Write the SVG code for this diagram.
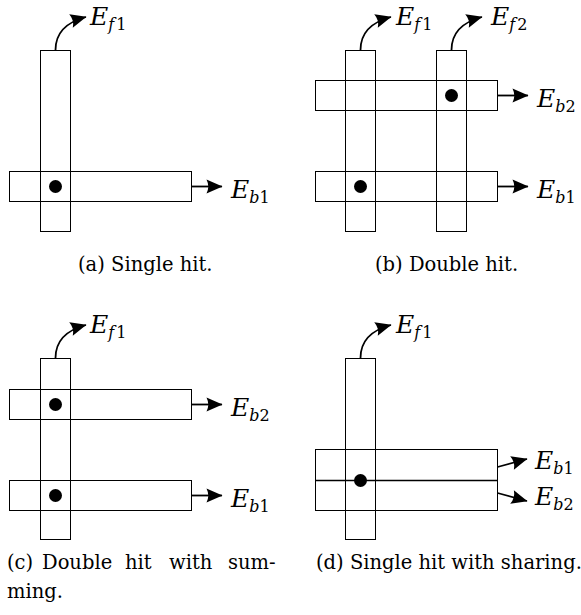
<svg xmlns="http://www.w3.org/2000/svg" width="581" height="615" viewBox="0 0 581 615">
<defs>
<marker id="ah" viewBox="-18 -9 19 18" markerWidth="19" markerHeight="18" refX="0" refY="0" orient="auto" markerUnits="userSpaceOnUse">
<path d="M0.5,0 L-15.5,-7 Q-12,0 -15.5,7 Z" fill="#000"/>
</marker>
</defs>
<style>
text{font-family:"DejaVu Serif","Liberation Serif","Noto Serif",serif;fill:#000}
.bar{fill:none;stroke:#000;stroke-width:1}
.dot{fill:#000}
.con{fill:none;stroke:#000;stroke-width:1.8;marker-end:url(#ah)}
.lbl{font-size:25px}
.i{font-style:italic}
.sub{font-size:16px}
.cap{font-size:19.5px}
</style>
<rect width="581" height="615" fill="#fff"/>

<!-- (a) -->
<g id="a-front"><rect class="bar" x="40.5" y="50.5" width="30" height="181"/></g>
<g id="a-back"><rect class="bar" x="9.5" y="171.5" width="182" height="30"/></g>
<g id="a-hit"><circle class="dot" cx="55.5" cy="186.5" r="6.5"/></g>
<g id="a-conn">
<path class="con" d="M55.5,50 C55.5,33 67,22 86,17"/>
<path class="con" d="M191.5,186.5 L222,186.5"/>
</g>
<g id="a-labels">
<text class="lbl" x="90" y="25"><tspan class="i">E</tspan><tspan class="sub i" dy="5">f</tspan><tspan class="sub" dx="2">1</tspan></text>
<text class="lbl" x="231" y="198"><tspan class="i">E</tspan><tspan class="sub i" dy="5">b</tspan><tspan class="sub">1</tspan></text>
<text class="cap" x="78" y="271">(a)  Single hit.</text>
</g>

<!-- (b) -->
<g id="b-front1"><rect class="bar" x="345.5" y="50.5" width="30" height="181"/></g>
<g id="b-front2"><rect class="bar" x="436.5" y="50.5" width="30" height="181"/></g>
<g id="b-back2"><rect class="bar" x="315.5" y="80.5" width="182" height="30"/></g>
<g id="b-back1"><rect class="bar" x="315.5" y="171.5" width="182" height="30"/></g>
<g id="b-hits"><circle class="dot" cx="451.5" cy="95.5" r="6.5"/><circle class="dot" cx="360.5" cy="186.5" r="6.5"/></g>
<g id="b-conn">
<path class="con" d="M360.5,50 C360.5,33 372,22 391,17"/>
<path class="con" d="M451.5,50 C451.5,33 463,22 482,17"/>
<path class="con" d="M497.5,95.5 L528,95.5"/>
<path class="con" d="M497.5,186.5 L528,186.5"/>
</g>
<g id="b-labels">
<text class="lbl" x="396" y="25"><tspan class="i">E</tspan><tspan class="sub i" dy="5">f</tspan><tspan class="sub" dx="2">1</tspan></text>
<text class="lbl" x="491" y="25"><tspan class="i">E</tspan><tspan class="sub i" dy="5">f</tspan><tspan class="sub" dx="2">2</tspan></text>
<text class="lbl" x="537" y="107"><tspan class="i">E</tspan><tspan class="sub i" dy="5">b</tspan><tspan class="sub">2</tspan></text>
<text class="lbl" x="537" y="198"><tspan class="i">E</tspan><tspan class="sub i" dy="5">b</tspan><tspan class="sub">1</tspan></text>
<text class="cap" x="375" y="271">(b)  Double hit.</text>
</g>

<!-- (c) -->
<g id="c-front"><rect class="bar" x="40.5" y="358.5" width="30" height="181"/></g>
<g id="c-back2"><rect class="bar" x="9.5" y="389.5" width="182" height="30"/></g>
<g id="c-back1"><rect class="bar" x="9.5" y="480.5" width="182" height="30"/></g>
<g id="c-hits"><circle class="dot" cx="55.5" cy="404.5" r="6.5"/><circle class="dot" cx="55.5" cy="495.5" r="6.5"/></g>
<g id="c-conn">
<path class="con" d="M55.5,358 C55.5,341 67,330 86,325"/>
<path class="con" d="M191.5,404.5 L222,404.5"/>
<path class="con" d="M191.5,495.5 L222,495.5"/>
</g>
<g id="c-labels">
<text class="lbl" x="90" y="333"><tspan class="i">E</tspan><tspan class="sub i" dy="5">f</tspan><tspan class="sub" dx="2">1</tspan></text>
<text class="lbl" x="231" y="416"><tspan class="i">E</tspan><tspan class="sub i" dy="5">b</tspan><tspan class="sub">2</tspan></text>
<text class="lbl" x="231" y="507"><tspan class="i">E</tspan><tspan class="sub i" dy="5">b</tspan><tspan class="sub">1</tspan></text>
<text class="cap" y="569"><tspan x="7">(c)</tspan><tspan x="42">Double</tspan><tspan x="125">hit</tspan><tspan x="169">with</tspan><tspan x="228">sum-</tspan></text>
<text class="cap" x="7" y="598">ming.</text>
</g>

<!-- (d) -->
<g id="d-front"><rect class="bar" x="345.5" y="358.5" width="30" height="181"/></g>
<g id="d-back"><rect class="bar" x="315.5" y="449.5" width="182" height="61"/><line x1="315.5" y1="480.5" x2="497.5" y2="480.5" stroke="#000" stroke-width="1.6"/></g>
<g id="d-hit"><circle class="dot" cx="360.5" cy="480.5" r="6.5"/></g>
<g id="d-conn">
<path class="con" d="M497.5,467 L527,459"/>
<path class="con" d="M497.5,493 L527,501"/>
<path class="con" d="M360.5,358 C360.5,341 372,330 391,325"/>
</g>
<g id="d-labels">
<text class="lbl" x="535" y="469"><tspan class="i">E</tspan><tspan class="sub i" dy="5">b</tspan><tspan class="sub">1</tspan></text>
<text class="lbl" x="535" y="505"><tspan class="i">E</tspan><tspan class="sub i" dy="5">b</tspan><tspan class="sub">2</tspan></text>
<text class="lbl" x="396" y="333"><tspan class="i">E</tspan><tspan class="sub i" dy="5">f</tspan><tspan class="sub" dx="2">1</tspan></text>
<text class="cap" x="316" y="569" font-size="19px">(d) Single hit with sharing.</text>
</g>
</svg>
